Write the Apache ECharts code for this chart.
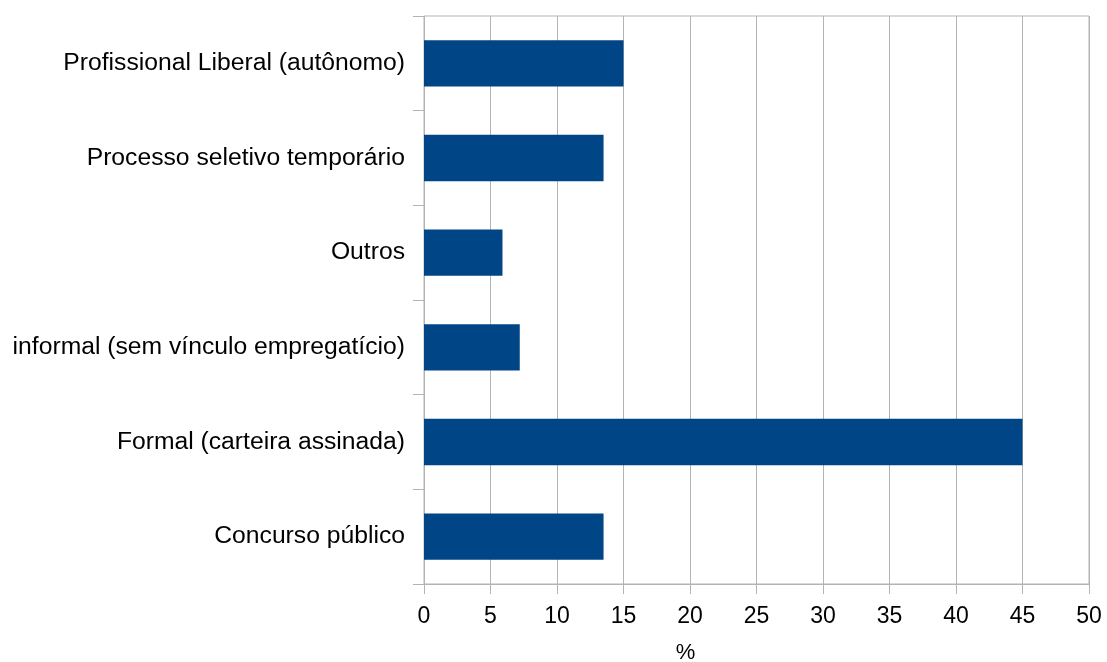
<!DOCTYPE html>
<html>
<head>
<meta charset="utf-8">
<script src="https://cdn.jsdelivr.net/npm/echarts@6/dist/echarts.min.js"></script>
<style>
  html, body { margin: 0; padding: 0; background: #fff; }
  #chart { width: 1107px; height: 662px; }
</style>
</head>
<body>
<div id="chart"></div>
<script>
// categories from top to bottom
const categories = [
  "Profissional Liberal (autônomo)",
  "Processo seletivo temporário",
  "Outros",
  "informal (sem vínculo empregatício)",
  "Formal (carteira assinada)",
  "Concurso público"
];
// percent values
const values = [15, 13.5, 5.9, 7.2, 45, 13.5];

const gridColor = "#b3b3b3";
const textColor = "#000";
const font = "Liberation Sans, Arial, sans-serif";

const myChart = echarts.init(document.getElementById("chart"));

let option = {
  animation: false,
  grid: {
    left: 424,
    right: 18,
    top: 16,
    bottom: 78,
    outerBoundsMode: "none",
    show: true,
    borderColor: gridColor,
    borderWidth: 1
  },
  xAxis: {
    type: "value",
    min: 0,
    max: 50,
    interval: 5,
    name: "%",
    nameLocation: "middle",
    nameGap: 58,
    nameTextStyle: {
      color: textColor,
      fontFamily: font,
      fontSize: 22,
      padding: [0, 142, 0, 0]
    },
    axisLine: { show: true, lineStyle: { color: gridColor } },
    axisTick: { show: true, length: 10, lineStyle: { color: gridColor } },
    axisLabel: {
      color: textColor,
      fontFamily: font,
      fontSize: 23,
      margin: 21
    },
    splitLine: { show: true, lineStyle: { color: gridColor } }
  },
  yAxis: {
    type: "category",
    inverse: true,
    data: categories,
    axisLine: { show: false },
    axisTick: { show: true, length: 11, lineStyle: { color: gridColor } },
    axisLabel: {
      color: textColor,
      fontFamily: font,
      fontSize: 24.7,
      margin: 19,
      padding: [4, 0, 0, 0]
    },
    splitLine: { show: false }
  },
  series: [
    {
      type: "bar",
      data: values,
      barCategoryGap: "51%",
      itemStyle: { color: "#004586" }
    }
  ]
};

myChart.setOption(option);
</script>
</body>
</html>
